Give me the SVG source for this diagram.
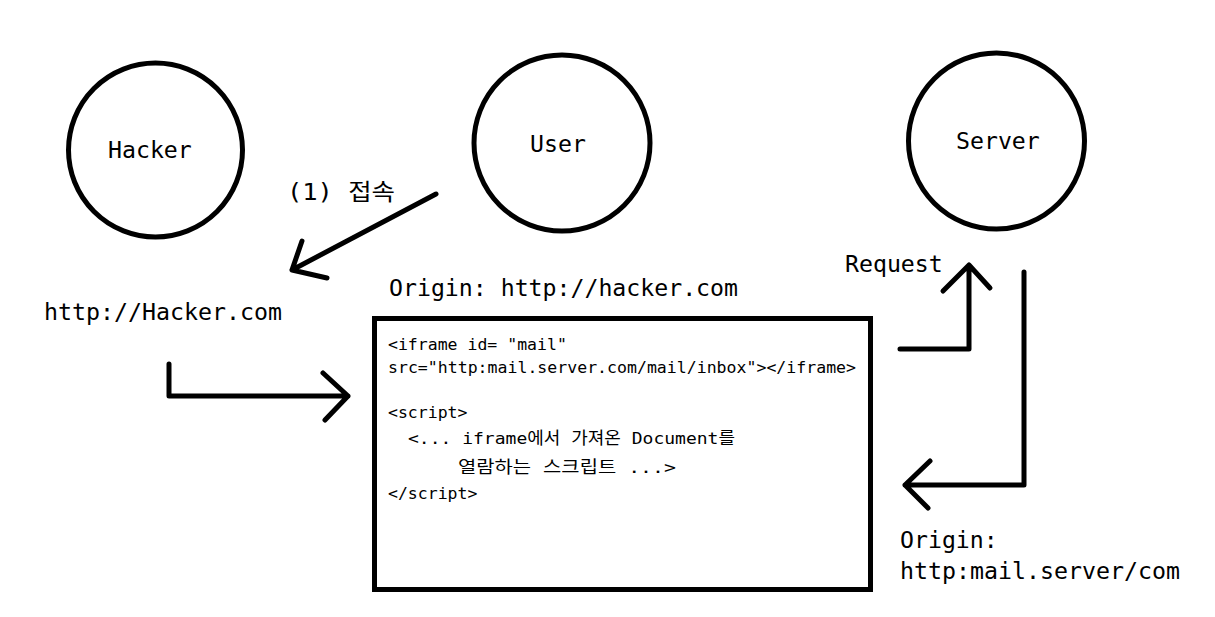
<svg xmlns="http://www.w3.org/2000/svg" width="1215" height="617" viewBox="0 0 1215 617">
<style>
.c{fill:none;stroke:#000;stroke-width:5}
.a{fill:none;stroke:#000;stroke-width:5;stroke-linecap:round;stroke-linejoin:round}
.t{font-family:"DejaVu Sans Mono","Noto Sans CJK KR",monospace;font-size:23.2px;fill:#000}
.s{font-family:"DejaVu Sans Mono","Noto Sans CJK KR",monospace;font-size:16.5px;fill:#000}
</style>
<rect width="1215" height="617" fill="#fff"/>
<g id="hacker"><circle class="c" cx="155.5" cy="150" r="87"/><text class="t" x="108" y="158">Hacker</text></g>
<g id="user"><circle class="c" cx="562" cy="143" r="88"/><text class="t" x="530" y="152">User</text></g>
<g id="server"><circle class="c" cx="996.5" cy="141" r="88"/><text class="t" x="956" y="149">Server</text></g>
<g id="hacker-url"><text class="t" x="44" y="320" textLength="238" lengthAdjust="spacingAndGlyphs">http://Hacker.com</text></g>
<g id="origin-hacker"><text class="t" x="389" y="296" textLength="349" lengthAdjust="spacingAndGlyphs">Origin: http://hacker.com</text></g>
<g id="origin-server"><text class="t" x="900" y="548">Origin:</text><text class="t" x="900" y="579" textLength="280" lengthAdjust="spacingAndGlyphs">http:mail.server/com</text></g>
<g id="page">
<rect x="374.5" y="318.5" width="496" height="271" fill="#fff" stroke="#000" stroke-width="5"/>
<text class="s" x="388" y="350">&lt;iframe id= "mail"</text>
<text class="s" x="388" y="373" textLength="468" lengthAdjust="spacingAndGlyphs">src="http:mail.server.com/mail/inbox"&gt;&lt;/iframe&gt;</text>
<text class="s" x="388" y="418">&lt;script&gt;</text>
<text class="s" x="408" y="444" textLength="327" lengthAdjust="spacingAndGlyphs">&lt;... iframe에서 가져온 Document를</text>
<text class="s" x="458" y="473" textLength="218" lengthAdjust="spacingAndGlyphs">열람하는 스크립트 ...&gt;</text>
<text class="s" x="388" y="499">&lt;/script&gt;</text>
</g>
<g id="connectors">
<path class="a" d="M436 194 L292 270 M302 241 L292 270 L327 278"/>
<text class="t" x="287" y="200" textLength="108" lengthAdjust="spacingAndGlyphs">(1) 접속</text>
<path class="a" d="M169 364 V396 H348 M323 373 L348 396 L325 420"/>
<path class="a" d="M900 349 H969 V265 M943 291 L969 265 L990 288"/>
<text class="t" x="845" y="272">Request</text>
<path class="a" d="M1024 272 V485 H905 M930 461 L905 485 L928 508"/>
</g>
</svg>
